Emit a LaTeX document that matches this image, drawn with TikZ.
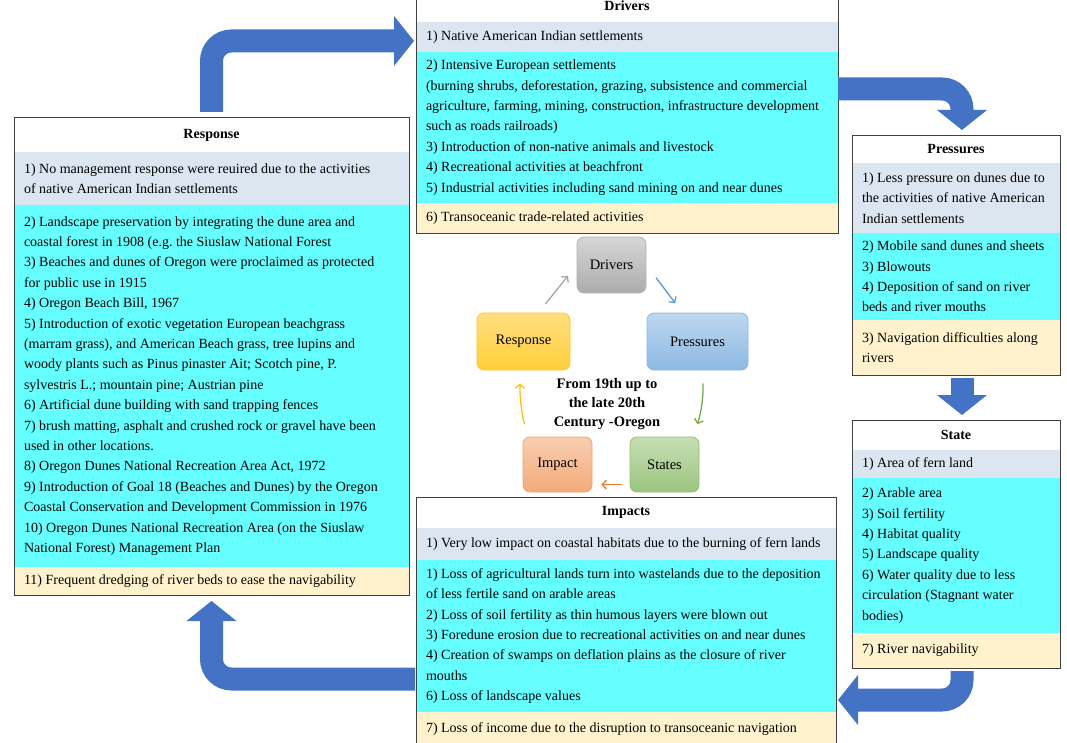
\documentclass[tikz,border=0pt]{standalone}
\usepackage{fontspec}
\setmainfont{Liberation Serif}
\usetikzlibrary{positioning,arrows.meta}

\definecolor{bandgray}{HTML}{DCE6F0}
\definecolor{bandcyan}{HTML}{66FFFF}
\definecolor{bandbeige}{HTML}{FFF2CC}
\definecolor{boxline}{HTML}{404040}
\definecolor{bigblue}{HTML}{4472C4}
\definecolor{cgray}{HTML}{A6A6A6}
\definecolor{cblue}{HTML}{5B9BD5}
\definecolor{cgreen}{HTML}{70AD47}
\definecolor{corange}{HTML}{ED7D31}
\definecolor{cyellow}{HTML}{FFC000}
\newcommand{\bandfont}{\fontsize{14}{20.4}\selectfont\frenchspacing}

\begin{document}
\begin{tikzpicture}[x=1pt,y=-1pt,
  band/.style={anchor=north, outer sep=0pt, inner xsep=10pt, inner ysep=2pt, align=justify, font=\bandfont},
  head/.style={band, fill=white, align=center, font=\bandfont\bfseries},
  outline/.style={draw=boxline, line width=1pt},
  bigarrow/.style={draw=bigblue, line width=23pt, rounded corners=20pt, -{Triangle[length=20pt,width=49pt]}},
  cyc/.style={rounded corners=7pt, inner sep=0pt, font=\fontsize{14.5}{16}\selectfont, line width=0.8pt},
  carrow/.style={line width=1.3pt, -{Straight Barb[length=4pt,width=9pt]}}]
  \useasboundingbox (0,0) rectangle (1067,743);
  \clip (0,0) rectangle (1067,743);
  \fill[white] (0,0) rectangle (1067,743);

  \begin{scope}[nodes={text width=375pt}]
    \node[head, minimum height=34pt] (respT) at (211.5,118) {Response};
    \node[band, fill=bandgray, minimum height=53pt, below=0pt of respT] (resp1)
      {1) No management response were reuired due to the activities\\
       of native American Indian settlements};
    \node[band, fill=bandcyan, minimum height=362pt, below=0pt of resp1] (resp2)
      {2) Landscape preservation by integrating the dune area and\\
       coastal forest in 1908 (e.g. the Siuslaw National Forest\\
       3) Beaches and dunes of Oregon were proclaimed as protected\\
       for public use in 1915\\
       4) Oregon Beach Bill, 1967\\
       5) Introduction of exotic vegetation European beachgrass\\
       (marram grass), and American Beach grass, tree lupins and\\
       woody plants such as Pinus pinaster Ait; Scotch pine, P.\\
       sylvestris L.; mountain pine; Austrian pine\\
       6) Artificial dune building with sand trapping fences\\
       7) brush matting, asphalt and crushed rock or gravel have been\\
       used in other locations.\\
       8) Oregon Dunes National Recreation Area Act, 1972\\
       9) Introduction of Goal 18 (Beaches and Dunes) by the Oregon\\
       Coastal Conservation and Development Commission in 1976\\
       10) Oregon Dunes National Recreation Area (on the Siuslaw\\
       National Forest) Management Plan};
    \node[band, fill=bandbeige, minimum height=28pt, below=0pt of resp2] (resp3)
      {11) Frequent dredging of river beds to ease the navigability};
  \end{scope}
  \draw[outline] (respT.north west) rectangle (resp3.south east);

  \begin{scope}[nodes={text width=402pt}]
    \node[head, minimum height=32pt] (drvT) at (627,-10) {Drivers};
    \node[band, fill=bandgray, minimum height=30pt, below=0pt of drvT] (drv1)
      {1) Native American Indian settlements};
    \node[band, fill=bandcyan, minimum height=151pt, below=0pt of drv1] (drv2)
      {2) Intensive European settlements\\
       (burning shrubs, deforestation, grazing, subsistence and commercial\\
       agriculture, farming, mining, construction, infrastructure development\\
       such as roads railroads)\\
       3) Introduction of non-native animals and livestock\\
       4) Recreational activities at beachfront\\
       5) Industrial activities including sand mining on and near dunes};
    \node[band, fill=bandbeige, minimum height=31pt, below=0pt of drv2] (drv3)
      {6) Transoceanic trade-related activities};
  \end{scope}
  \draw[outline] (drvT.north west) rectangle (drv3.south east);

  \begin{scope}[nodes={text width=188pt}]
    \node[head, minimum height=27pt] (prsT) at (956,136) {Pressures};
    \node[band, fill=bandgray, minimum height=70pt, below=0pt of prsT] (prs1)
      {1) Less pressure on dunes due to\\
       the activities of native American\\
       Indian settlements};
    \node[band, fill=bandcyan, minimum height=87pt, below=0pt of prs1] (prs2)
      {2) Mobile sand dunes and sheets\\
       3) Blowouts\\
       4) Deposition of sand on river\\
       beds and river mouths};
    \node[band, fill=bandbeige, minimum height=55pt, below=0pt of prs2] (prs3)
      {3) Navigation difficulties along\\
       rivers};

    \node[head, minimum height=30pt] (sttT) at (956,420) {State};
    \node[band, fill=bandgray, minimum height=28pt, below=0pt of sttT] (stt1)
      {1) Area of fern land};
    \node[band, fill=bandcyan, minimum height=155pt, below=0pt of stt1] (stt2)
      {2) Arable area\\
       3) Soil fertility\\
       4) Habitat quality\\
       5) Landscape quality\\
       6) Water quality due to less\\
       circulation (Stagnant water\\
       bodies)};
    \node[band, fill=bandbeige, minimum height=35pt, below=0pt of stt2] (stt3)
      {7) River navigability};
  \end{scope}
  \draw[outline] (prsT.north west) rectangle (prs3.south east);
  \draw[outline] (sttT.north west) rectangle (stt3.south east);

  \begin{scope}[nodes={text width=400pt}]
    \node[head, minimum height=31pt] (impT) at (626,497) {Impacts};
    \node[band, fill=bandgray, minimum height=32pt, below=0pt of impT] (imp1)
      {1) Very low impact on coastal habitats due to the burning of fern lands};
    \node[band, fill=bandcyan, minimum height=152pt, below=0pt of imp1] (imp2)
      {1) Loss of agricultural lands turn into wastelands due to the deposition\\
       of less fertile sand on arable areas\\
       2) Loss of soil fertility as thin humous layers were blown out\\
       3) Foredune erosion due to recreational activities on and near dunes\\
       4) Creation of swamps on deflation plains as the closure of river\\
       mouths\\
       6) Loss of landscape values};
    \node[band, fill=bandbeige, minimum height=34pt, below=0pt of imp2] (imp3)
      {7) Loss of income due to the disruption to transoceanic navigation};
  \end{scope}
  \draw[outline] (impT.north west) rectangle (imp3.south east);

  \draw[bigarrow] ([yshift=6pt]respT.north) |- ([xshift=-2pt,yshift=-4pt]drv1.west);
  \draw[bigarrow] ([yshift=-37pt]drv2.north east) -| ([xshift=6pt,yshift=6pt]prsT.north);
  \draw[bigarrow, rounded corners=0pt] ([xshift=6pt,yshift=-3pt]prs3.south) -- ([xshift=6pt,yshift=5pt]sttT.north);
  \draw[bigarrow] ([xshift=6pt,yshift=-3pt]stt3.south) |- ([xshift=2pt,yshift=12pt]imp2.south east);
  \draw[bigarrow] ([xshift=-1pt,yshift=33pt]imp2.south west) -| ([yshift=-6pt]resp3.south);

  \node[cyc, draw=cgray!85, top color=gray!32, bottom color=gray!65, minimum width=69pt, minimum height=56pt] (cdrv) at (611.5,265) {Drivers};
  \node[cyc, draw=cblue!70, top color=cblue!40, bottom color=cblue!70, minimum width=101pt, minimum height=57pt] (cprs) at (697.5,341.5) {Pressures};
  \node[cyc, draw=cgreen!75, top color=cgreen!40, bottom color=cgreen!70, minimum width=69pt, minimum height=55pt] (cstt) at (664.5,464.5) {States};
  \node[cyc, draw=corange!70, top color=corange!38, bottom color=corange!65, minimum width=69pt, minimum height=55pt] (cimp) at (557.5,464.5) {Impact};
  \node[cyc, draw=cyellow!85, top color=cyellow!50, bottom color=cyellow!78, minimum width=93pt, minimum height=57pt] (cresp) at (523.5,341.5) {Response};
  \node[font=\fontsize{14.5}{19}\selectfont\bfseries, align=center] (period) at (607,404)
    {From 19th up to\\the late 20th\\Century -Oregon};

  \draw[carrow, cgray, shorten <=11pt, shorten >=14pt] ([xshift=15pt]cresp.north) -- (cdrv.west);
  \draw[carrow, cblue, shorten <=16pt, shorten >=12pt] (cdrv.east) -- ([xshift=-15pt]cprs.north);
  \draw[carrow, cgreen, shorten <=13pt, shorten >=13pt] ([xshift=5pt]cprs.south) to[bend left=10] ([xshift=-6pt]cstt.north east);
  \draw[carrow, corange, shorten <=8pt, shorten >=9pt] ([yshift=-20pt]cstt.west) -- ([yshift=-20pt]cimp.east);
  \draw[carrow, cyellow, shorten <=13pt, shorten >=13pt] ([xshift=5pt]cimp.north west) to[bend left=8] ([xshift=-3pt]cresp.south);
\end{tikzpicture}
\end{document}
